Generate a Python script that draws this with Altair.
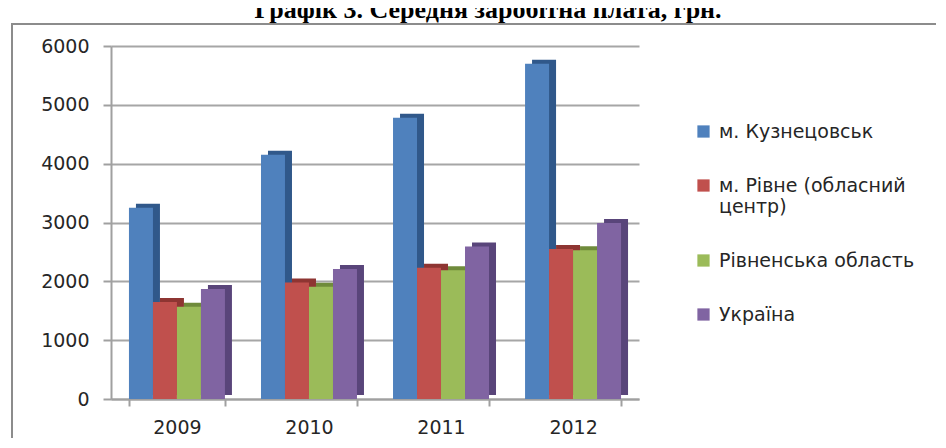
import altair as alt
import pandas as pd

years = ["2009", "2010", "2011", "2012"]
series = ["м. Кузнецовськ", "м. Рівне (обласний центр)", "Рівненська область", "Україна"]
kuznetsovsk = [3250, 4150, 4780, 5700]
rivne_city = [1650, 1980, 2230, 2550]
rivne_oblast = [1570, 1910, 2190, 2530]
ukraine = [1870, 2210, 2590, 2990]
y_ticks = [0, 1000, 2000, 3000, 4000, 5000, 6000]
title_text = "Графік 3. Середня заробітна плата, грн."

front_colors = ["#4F81BD", "#C0504D", "#9BBB59", "#8064A2"]
side_colors = ["#30588A", "#8E3532", "#6F8B3B", "#59457A"]

rows = []
for s, vals in zip(series, [kuznetsovsk, rivne_city, rivne_oblast, ukraine]):
    for yr, v in zip(years, vals):
        rows.append({"year": yr, "series": s, "value": v})
df = pd.DataFrame(rows)

W, H = 528, 353
P_IN, P_OUT = 0.273, 0.136
step = W / (len(years) - P_IN + 2 * P_OUT)
band = step * (1 - P_IN)
DEPTH_X, DEPTH_Y = 7, 4

x_scale = alt.Scale(domain=years, paddingInner=P_IN, paddingOuter=P_OUT)
y_scale = alt.Scale(domain=[0, 6000], nice=False)

x_axis = alt.Axis(title=None, labelAngle=0, labelFont="DejaVu Sans", labelFontSize=19,
                  labelColor="#262626", labelPadding=12, domainColor="#a0a0a0", domainWidth=2,
                  tickColor="#a0a0a0", tickWidth=2, tickSize=7, tickBand="extent")
y_axis = alt.Axis(title=None, values=y_ticks, format="d", labelFont="DejaVu Sans", labelFontSize=19,
                  labelColor="#262626", labelPadding=14, domainColor="#a0a0a0", domainWidth=2,
                  tickColor="#a0a0a0", tickWidth=2, tickSize=8, grid=True,
                  gridColor="#a6a6a6", gridWidth=2)

base = alt.Chart(df)

side = base.mark_bar(yOffset=-DEPTH_Y).encode(
    x=alt.X("year:N", scale=x_scale, axis=x_axis),
    xOffset=alt.XOffset("series:N", sort=series,
                        scale=alt.Scale(domain=series, range=[DEPTH_X, DEPTH_X + band],
                                        paddingInner=0, paddingOuter=0)),
    y=alt.Y("value:Q", scale=y_scale, axis=y_axis),
    color=alt.Color("series:N", scale=alt.Scale(domain=series, range=side_colors), legend=None),
)

front = base.mark_bar().encode(
    x=alt.X("year:N", scale=x_scale, axis=x_axis),
    xOffset=alt.XOffset("series:N", sort=series,
                        scale=alt.Scale(domain=series, range=[0, band],
                                        paddingInner=0, paddingOuter=0)),
    y=alt.Y("value:Q", scale=y_scale, axis=y_axis),
    color=alt.Color("series:N", scale=alt.Scale(domain=series, range=front_colors),
                    legend=alt.Legend(title=None,
                                      labelExpr="datum.label == 'м. Рівне (обласний центр)' ? ['м. Рівне (обласний', 'центр)'] : datum.label")),
)

frame = alt.Chart(alt.Data(values=[{"k": 1}])).mark_rect(
    fillOpacity=0, stroke="#8c8c8c", strokeWidth=2
).encode(x=alt.value(-99), x2=alt.value(840), y=alt.value(-22), y2=alt.value(420))

title = alt.Chart(alt.Data(values=[{"t": title_text}])).mark_text(
    font="Liberation Serif", fontWeight="bold", fontSize=26, baseline="alphabetic",
    align="center", color="#000000"
).encode(x=alt.value(377), y=alt.value(-28), text="t:N")

chart = alt.layer(frame, side, front, title).resolve_scale(
    xOffset="independent", color="independent"
).properties(
    width=W, height=H,
    autosize=alt.AutoSizeParams(type="none"),
    padding={"left": 103, "top": 38, "right": 297, "bottom": 39},
).configure_view(stroke=None).configure_legend(
    orient="none", legendX=583, legendY=76, symbolType="square", symbolSize=150,
    symbolStrokeWidth=0, labelFont="DejaVu Sans", labelFontSize=19, labelColor="#262626",
    labelLimit=300, rowPadding=34, labelOffset=6,
)

chart.save("out.html", embed_options={"renderer": "svg", "actions": False})
